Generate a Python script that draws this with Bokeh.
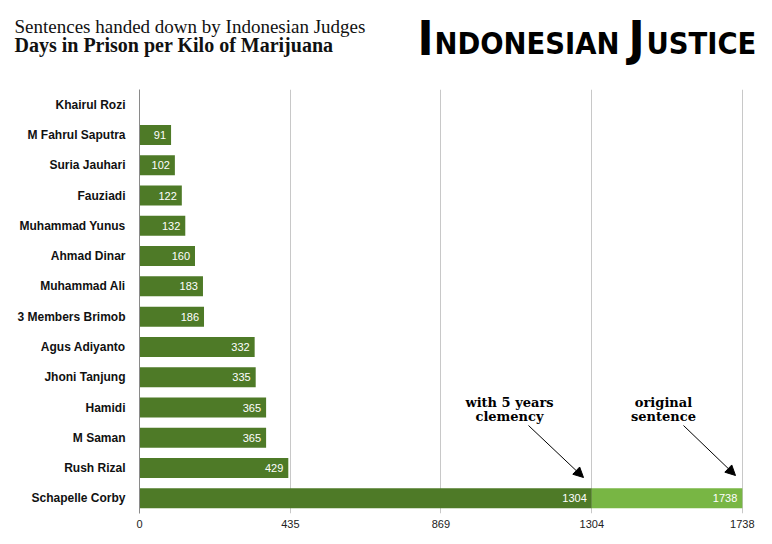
from bokeh.plotting import figure
from bokeh.models import FactorRange, Range1d, FixedTicker, Label, Arrow, NormalHead, ColumnDataSource
from bokeh.core.properties import value
from bokeh.embed import file_html
from bokeh.resources import INLINE

# ---- data ----
names = ["Khairul Rozi", "M Fahrul Saputra", "Suria Jauhari", "Fauziadi",
         "Muhammad Yunus", "Ahmad Dinar", "Muhammad Ali", "3 Members Brimob",
         "Agus Adiyanto", "Jhoni Tanjung", "Hamidi", "M Saman", "Rush Rizal",
         "Schapelle Corby"]
days = [1, 91, 102, 122, 132, 160, 183, 186, 332, 335, 365, 365, 429, 1304]
day_labels = ["", "91", "102", "122", "132", "160", "183", "186", "332", "335",
              "365", "365", "429", "1304"]
original_name = ["Schapelle Corby"]
original_start = [1304]
original_days = [1738]
original_labels = ["1738"]
ticks = [0, 435, 869, 1304, 1738]

title_line1 = "Sentences handed down by Indonesian Judges"
title_line2 = "Days in Prison per Kilo of Marijuana"

DARK = "#4e7a27"
LIGHT = "#78b644"
STENCIL = value("DejaVu Sans Condensed")

W = 770
HH = 89                     # header height
H = 542 - HH                # chart height
FL, FR, FT, FB = 139, 746, 0, 424   # frame in chart-figure px
XMAX = 1750

# ---- header ----
hdr = figure(width=W, height=HH, output_backend="svg", toolbar_location=None,
             x_range=Range1d(0, W), y_range=Range1d(HH, 0),
             min_border=0, x_axis_type=None, y_axis_type=None)
hdr.outline_line_color = None
hdr.xgrid.grid_line_color = None
hdr.ygrid.grid_line_color = None
hdr.text(x=[14], y=[25.5], text=[title_line1], text_font=value("Liberation Serif"),
         text_font_size="19px", text_color="#111111", text_baseline="middle")
hdr.text(x=[14], y=[44], text=[title_line2], text_font=value("Liberation Serif"),
         text_font_style="bold", text_font_size="20px", text_color="#111111",
         text_baseline="middle")
for txt, px, py, size in (("I", 417, 37, "48px"), ("NDONESIAN", 434, 42.5, "30.5px"),
                          ("J", 628, 37, "48px"), ("USTICE", 646, 42.5, "30.5px")):
    hdr.text(x=[px], y=[py], text=[txt], text_font=STENCIL,
             text_font_style="bold", text_font_size=size, text_color="black",
             text_baseline="middle")

# ---- chart ----
p = figure(width=W, height=H, output_backend="svg", toolbar_location=None,
           y_range=FactorRange(factors=list(reversed(names))),
           x_range=Range1d(0, XMAX),
           min_border_left=FL, min_border_right=W - FR,
           min_border_top=FT, min_border_bottom=H - FB)
p.outline_line_color = None

src = ColumnDataSource(dict(y=names, v=days, t=day_labels))
p.hbar(y="y", left=0, right="v", height=0.66, source=src,
       fill_color=DARK, line_color=None)
src2 = ColumnDataSource(dict(y=original_name, l=original_start,
                             r=original_days, t=original_labels))
p.hbar(y="y", left="l", right="r", height=0.66, source=src2,
       fill_color=LIGHT, line_color=None)

for s, xcol in ((src, "v"), (src2, "r")):
    p.text(x=xcol, y="y", text="t", source=s, x_offset=-5,
           text_align="right", text_baseline="middle",
           text_color="white", text_font=value("Liberation Sans"),
           text_font_size="11px")

p.xaxis.ticker = FixedTicker(ticks=ticks)
p.xgrid.ticker = FixedTicker(ticks=ticks)
p.xgrid.grid_line_color = "#c8c8c8"
p.ygrid.grid_line_color = None
p.xaxis.axis_line_color = None
p.xaxis.major_tick_line_color = None
p.xaxis.minor_tick_line_color = None
p.xaxis.major_tick_out = 0
p.xaxis.major_label_standoff = 6
p.xaxis.major_label_text_font = "Liberation Sans"
p.xaxis.major_label_text_font_size = "11px"
p.xaxis.major_label_text_color = "#222222"
p.yaxis.axis_line_color = "#8a8a8a"
p.yaxis.major_tick_line_color = None
p.yaxis.minor_tick_line_color = None
p.yaxis.major_label_standoff = 8
p.yaxis.major_label_text_font = "Liberation Sans"
p.yaxis.major_label_text_font_style = "bold"
p.yaxis.major_label_text_font_size = "12px"
p.yaxis.major_label_text_color = "#111111"

# helpers: reference-image px -> chart data coords
XS = (FR - FL) / XMAX
YS = (FB - FT) / len(names)
def dx(px):
    return (px - FL) / XS
def dy(py):
    return (FB - (py - HH)) / YS

for txt, px, py in (("with 5 years", 509, 402), ("clemency", 509, 415.5),
                    ("original", 663, 402), ("sentence", 663, 415.5)):
    p.add_layout(Label(x=dx(px), y=dy(py), text=txt, text_align="center",
                       text_font="DejaVu Serif", text_font_style="bold",
                       text_font_size="13px", text_color="black",
                       text_baseline="middle"))
for x0, y0, x1, y1 in ((528, 425, 583, 477), (683, 425, 735, 475)):
    p.add_layout(Arrow(end=NormalHead(size=10, fill_color="black", line_color="black"),
                       line_color="black", line_width=1,
                       x_start=dx(x0), y_start=dy(y0), x_end=dx(x1), y_end=dy(y1)))

open("out.html", "w").write(file_html([hdr, p], INLINE))
